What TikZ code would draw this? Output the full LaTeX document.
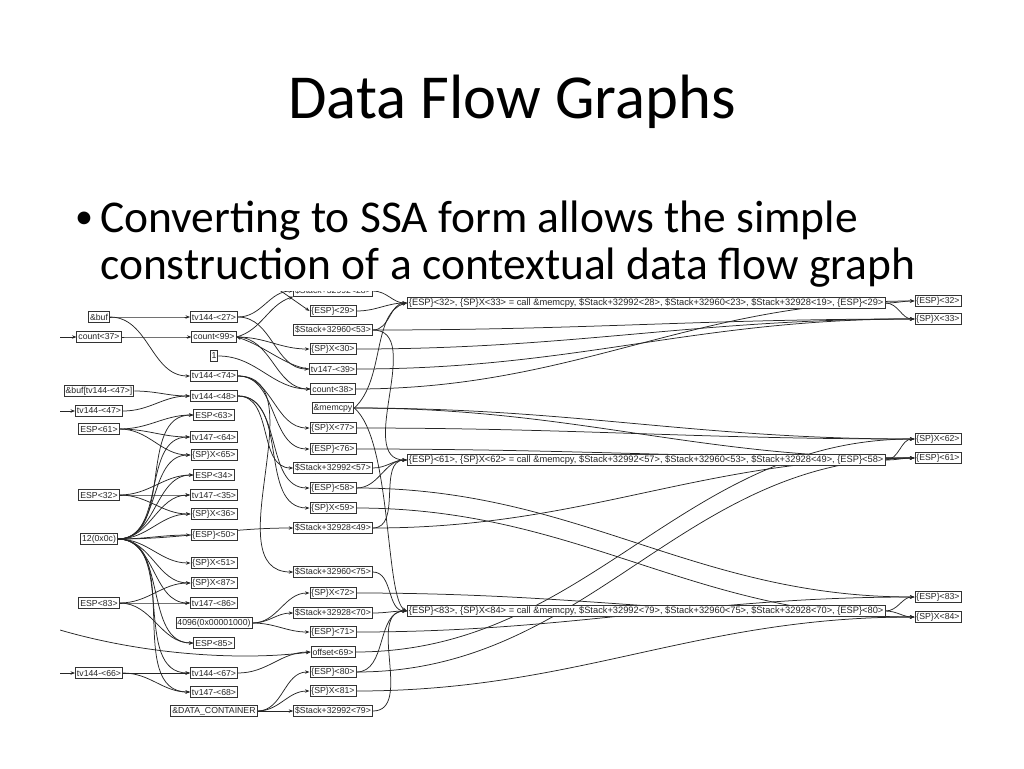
\documentclass[tikz,border=0pt]{standalone}
\usepackage{fontspec}
\setmainfont{Carlito}
\newfontfamily\graphfont{Liberation Sans}
\usetikzlibrary{arrows.meta, backgrounds}

\begin{document}
\begin{tikzpicture}[x=1pt, y=-1pt,
  box/.style={draw=black!80, line width=0.9pt, fill=white, inner xsep=1.5pt, inner ysep=1pt,
    minimum height=10.5pt, text=black!85, font=\graphfont\fontsize{8.7}{9}\selectfont},
  callbox/.style={box, anchor=west, font=\graphfont\fontsize{9.3}{9}\selectfont},
  edge/.style={draw=black!85, line width=0.75pt, -{Stealth[length=4.5pt,width=3.4pt]}},
  slide/.style={anchor=base west, inner sep=0pt, font=\fontsize{45.5}{50}\selectfont}]
  \useasboundingbox (0,0) rectangle (1024,768);

  \node[anchor=base, font=\fontsize{62.6}{70}\selectfont] (title) at (512,118) {Data Flow Graphs};
  \node[slide, font=\fontsize{36}{40}\selectfont] (dot) at (75,228) {•};
  \node[slide] (line1) at (100,232) {Converting to SSA form allows the simple};
  \node[slide] (line2) at (100,279) {construction of a contextual data flow graph};

  \begin{scope}
    \clip (60,291) rectangle (975,725);
    % inputs
    \foreach \n/\y/\t in {buf/317/\&buf, cnt37/337/count<37>, bufidx/391/\&buf[tv144-<47>],
      tv47/411/tv144-<47>, esp61/429/ESP<61>, esp32/495/ESP<32>, twelve/539/12(0x0c),
      esp83/603/ESP<83>, tv66/673/tv144-<66>}
      \node[box] (\n) at (99,\y) {\t};
    \foreach \n/\y/\t in {tv27/317/tv144-<27>, cnt99/337/count<99>, one/356/1, tv74/376/tv144-<74>,
      tv48/396/tv144-<48>, esp63/415/ESP<63>, tv64/437/tv147-<64>, sp65/455/\{SP\}X<65>,
      esp34/475/ESP<34>, tv35/495/tv147-<35>, sp36/514/\{SP\}X<36>, esp50/535/\{ESP\}<50>,
      sp51/563/\{SP\}X<51>, sp87/583/\{SP\}X<87>, tv86/603/tv147-<86>, k4096/623/4096(0x00001000),
      esp85/643/ESP<85>, tv67/673/tv144-<67>, tv68/692/tv147-<68>, data/711/\&DATA\_CONTAINER}
      \node[box] (\n) at (214,\y) {\t};
    \foreach \n/\y/\t in {st28/291/\$Stack+32992<28>, esp29/311/\{ESP\}<29>, st53/330/\$Stack+32960<53>,
      sp30/349/\{SP\}X<30>, tv39/369/tv147-<39>, cnt38/389/count<38>, memcpy/408/\&memcpy,
      sp77/428/\{SP\}X<77>, esp76/449/\{ESP\}<76>, st57/468/\$Stack+32992<57>, esp58/488/\{ESP\}<58>,
      sp59/508/\{SP\}X<59>, st49/528/\$Stack+32928<49>, st75/572/\$Stack+32960<75>,
      sp72/593/\{SP\}X<72>, st70/613/\$Stack+32928<70>, esp71/632/\{ESP\}<71>, off69/652/offset<69>,
      esp80/672/\{ESP\}<80>, sp81/691/\{SP\}X<81>, st79/711/\$Stack+32992<79>}
      \node[box] (\n) at (333,\y) {\t};
    % calls
    \node[callbox] (callA) at (407,303) {\{ESP\}<32>, \{SP\}X<33> = call \&memcpy, \$Stack+32992<28>, \$Stack+32960<23>, \$Stack+32928<19>, \{ESP\}<29>};
    \node[callbox] (callB) at (407,460) {\{ESP\}<61>, \{SP\}X<62> = call \&memcpy, \$Stack+32992<57>, \$Stack+32960<53>, \$Stack+32928<49>, \{ESP\}<58>};
    \node[callbox] (callC) at (407,611) {\{ESP\}<83>, \{SP\}X<84> = call \&memcpy, \$Stack+32992<79>, \$Stack+32960<75>, \$Stack+32928<70>, \{ESP\}<80>};
    % outputs
    \foreach \n/\y/\t in {r32/301/\{ESP\}<32>, r33/319/\{SP\}X<33>, r62/439/\{SP\}X<62>,
      r61/458/\{ESP\}<61>, r83/597/\{ESP\}<83>, r84/617/\{SP\}X<84>}
      \node[box] (\n) at (938,\y) {\t};

    \coordinate (in37) at (50,337);
    \coordinate (in47) at (50,411);
    \coordinate (in66) at (50,673);
    \coordinate (in69) at (50,627);
    \coordinate (up29) at (268,282);

    \begin{scope}[on background layer]
      \clip (60,291) rectangle (975,725);
      \foreach \src/\dst in {buf/tv27, buf/tv74, cnt37/cnt99, bufidx/tv48, tv47/tv48,
        esp61/esp63, esp61/tv64, esp61/sp65, esp32/esp34, esp32/tv35, esp32/sp36,
        twelve/esp63, twelve/tv64, twelve/sp65, twelve/esp34, twelve/tv35, twelve/sp36,
        twelve/esp50, twelve/st49, twelve/sp51, twelve/sp87, twelve/tv86, twelve/esp85,
        twelve/tv67, twelve/tv68, esp83/sp87, esp83/tv86, esp83/esp85, tv66/tv67, tv66/tv68,
        tv27/st28, tv27/tv39, cnt99/sp30, cnt99/cnt38, one/cnt38, tv74/sp77, tv74/esp76,
        tv74/st75, tv48/st57, tv48/esp58, tv48/sp59, k4096/sp72, k4096/st70, k4096/esp71,
        tv67/off69, data/esp80, data/sp81, data/st79,
        st28/callA, esp29/callA, st53/callA, st53/callB, st57/callB, esp58/callB, st49/callB,
        st75/callC, st70/callC, esp80/callC, st79/callC,
        callA/r32, callA/r33, callB/r62, callB/r61, callC/r83, callC/r84,
        sp30/r33, tv39/r33, st53/r33, cnt38/r32, memcpy/r62, memcpy/r61, sp77/r62, esp76/r61,
        st49/r61, esp58/r83, sp59/r84, esp71/r83, sp72/r84, off69/r62, esp80/r61, sp81/r84}
        \draw[edge] (\src.east) to[out=0, in=180] (\dst.west);
      \draw[edge] (in37) -- (cnt37.west);
      \draw[edge] (in47) -- (tv47.west);
      \draw[edge] (in66) -- (tv66.west);
      \draw[edge] (in69) .. controls (140,655) and (240,661) .. (off69.west);
      \draw[edge] (up29) -- (esp29.west);
      \draw[edge] (cnt99.east) .. controls (262,330) and (268,305) .. (st28.south west);
      \draw[edge] (tv39.west) .. controls (285,366) and (265,346) .. (cnt99.east);
      \draw[edge] (memcpy.east) .. controls (385,380) and (372,312) .. (callA.west);
      \draw[edge] (memcpy.east) .. controls (392,440) and (385,600) .. (callC.west);
    \end{scope}
  \end{scope}
\end{tikzpicture}
\end{document}
